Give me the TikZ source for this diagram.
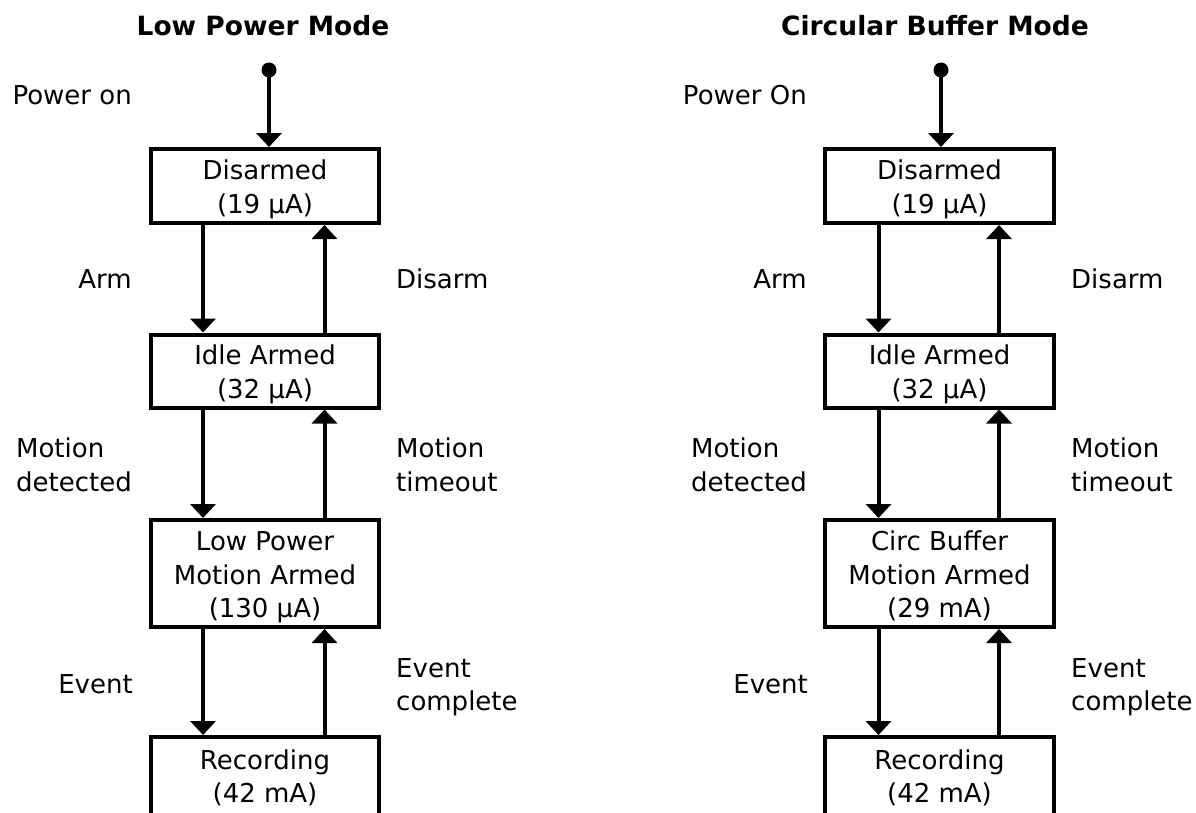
\documentclass[tikz,border=0pt]{standalone}
\usepackage{fontspec}
\setmainfont{DejaVu Sans}
\usetikzlibrary{arrows.meta}
\newcommand\mytopstrut{\rule{0pt}{27pt}}
\newcommand\mybotstrut{\rule[-6pt]{0pt}{6pt}}
\begin{document}
\begin{tikzpicture}[x=1pt,y=-1pt,
  font=\fontsize{26}{33.5}\selectfont,
  statebox/.style={draw, line width=4pt, minimum width=228.5pt, align=center, inner xsep=3pt, inner ysep=2pt},
  lbl/.style={inner sep=0pt, align=left},
  ttl/.style={font=\fontsize{26.5}{30}\selectfont\bfseries, inner sep=0pt, anchor=base},
  tr/.style={line width=4pt, -{Triangle[width=25pt,length=14pt]}},
]
\useasboundingbox (0,0) rectangle (1196,812);

% ---------------- Left: Low Power Mode ----------------
\node[ttl] (t1) at (263,35) {Low Power Mode};
\coordinate (s1) at (269,70);
\fill (s1) circle (7.5pt);

\node[statebox, minimum height=74pt] (d1) at (265,186) {\mytopstrut Disarmed\\(19 µA)\mybotstrut};
\node[statebox, minimum height=73pt] (i1) at (265,371) {\mytopstrut Idle Armed\\(32 µA)\mybotstrut};
\node[statebox, minimum height=107pt] (m1) at (265,573.5) {\mytopstrut Low Power\\Motion Armed\\(130 µA)\mybotstrut};
\node[statebox, minimum height=96pt] (r1) at (265,785) {\mytopstrut Recording\\(42 mA)\rule[-25.5pt]{0pt}{1pt}};

\draw[tr] (s1) -- (s1 |- d1.north);
\draw[tr] ([xshift=-62pt]d1.south) -- ([xshift=-62pt]i1.north);
\draw[tr] ([xshift=59.5pt]i1.north) -- ([xshift=59.5pt]d1.south);
\draw[tr] ([xshift=-62pt]i1.south) -- ([xshift=-62pt]m1.north);
\draw[tr] ([xshift=59.5pt]m1.north) -- ([xshift=59.5pt]i1.south);
\draw[tr] ([xshift=-62pt]m1.south) -- ([xshift=-62pt]r1.north);
\draw[tr] ([xshift=59.5pt]r1.north) -- ([xshift=59.5pt]m1.south);

\node[lbl, anchor=base east] (po1) at (132,104) {Power on};
\node[lbl, anchor=base east] (a1) at (132,288) {Arm};
\node[lbl, anchor=base west] (da1) at (396,288) {Disarm};
\node[lbl, anchor=east] (md1) at (132,465) {Motion\\detected};
\node[lbl, anchor=west] (mt1) at (396,465) {Motion\\timeout};
\node[lbl, anchor=base east] (e1) at (133,693) {Event};
\node[lbl, anchor=west] (ec1) at (396,687) {Event\\complete};

% ---------------- Right: Circular Buffer Mode ----------------
\node[ttl] (t2) at (935,35) {Circular Buffer Mode};
\coordinate (s2) at (941,70);
\fill (s2) circle (7.5pt);

\node[statebox, minimum height=74pt] (d2) at (939.5,186) {\mytopstrut Disarmed\\(19 µA)\mybotstrut};
\node[statebox, minimum height=73pt] (i2) at (939.5,371) {\mytopstrut Idle Armed\\(32 µA)\mybotstrut};
\node[statebox, minimum height=107pt] (m2) at (939.5,573.5) {\mytopstrut Circ Buffer\\Motion Armed\\(29 mA)\mybotstrut};
\node[statebox, minimum height=96pt] (r2) at (939.5,785) {\mytopstrut Recording\\(42 mA)\rule[-25.5pt]{0pt}{1pt}};

\draw[tr] (s2) -- (s2 |- d2.north);
\draw[tr] ([xshift=-61pt]d2.south) -- ([xshift=-61pt]i2.north);
\draw[tr] ([xshift=59.5pt]i2.north) -- ([xshift=59.5pt]d2.south);
\draw[tr] ([xshift=-61pt]i2.south) -- ([xshift=-61pt]m2.north);
\draw[tr] ([xshift=59.5pt]m2.north) -- ([xshift=59.5pt]i2.south);
\draw[tr] ([xshift=-61pt]m2.south) -- ([xshift=-61pt]r2.north);
\draw[tr] ([xshift=59.5pt]r2.north) -- ([xshift=59.5pt]m2.south);

\node[lbl, anchor=base east] (po2) at (807,104) {Power On};
\node[lbl, anchor=base east] (a2) at (807,288) {Arm};
\node[lbl, anchor=base west] (da2) at (1071,288) {Disarm};
\node[lbl, anchor=east] (md2) at (807,465) {Motion\\detected};
\node[lbl, anchor=west] (mt2) at (1071,465) {Motion\\timeout};
\node[lbl, anchor=base east] (e2) at (808,693) {Event};
\node[lbl, anchor=west] (ec2) at (1071,687) {Event\\complete};
\end{tikzpicture}
\end{document}
